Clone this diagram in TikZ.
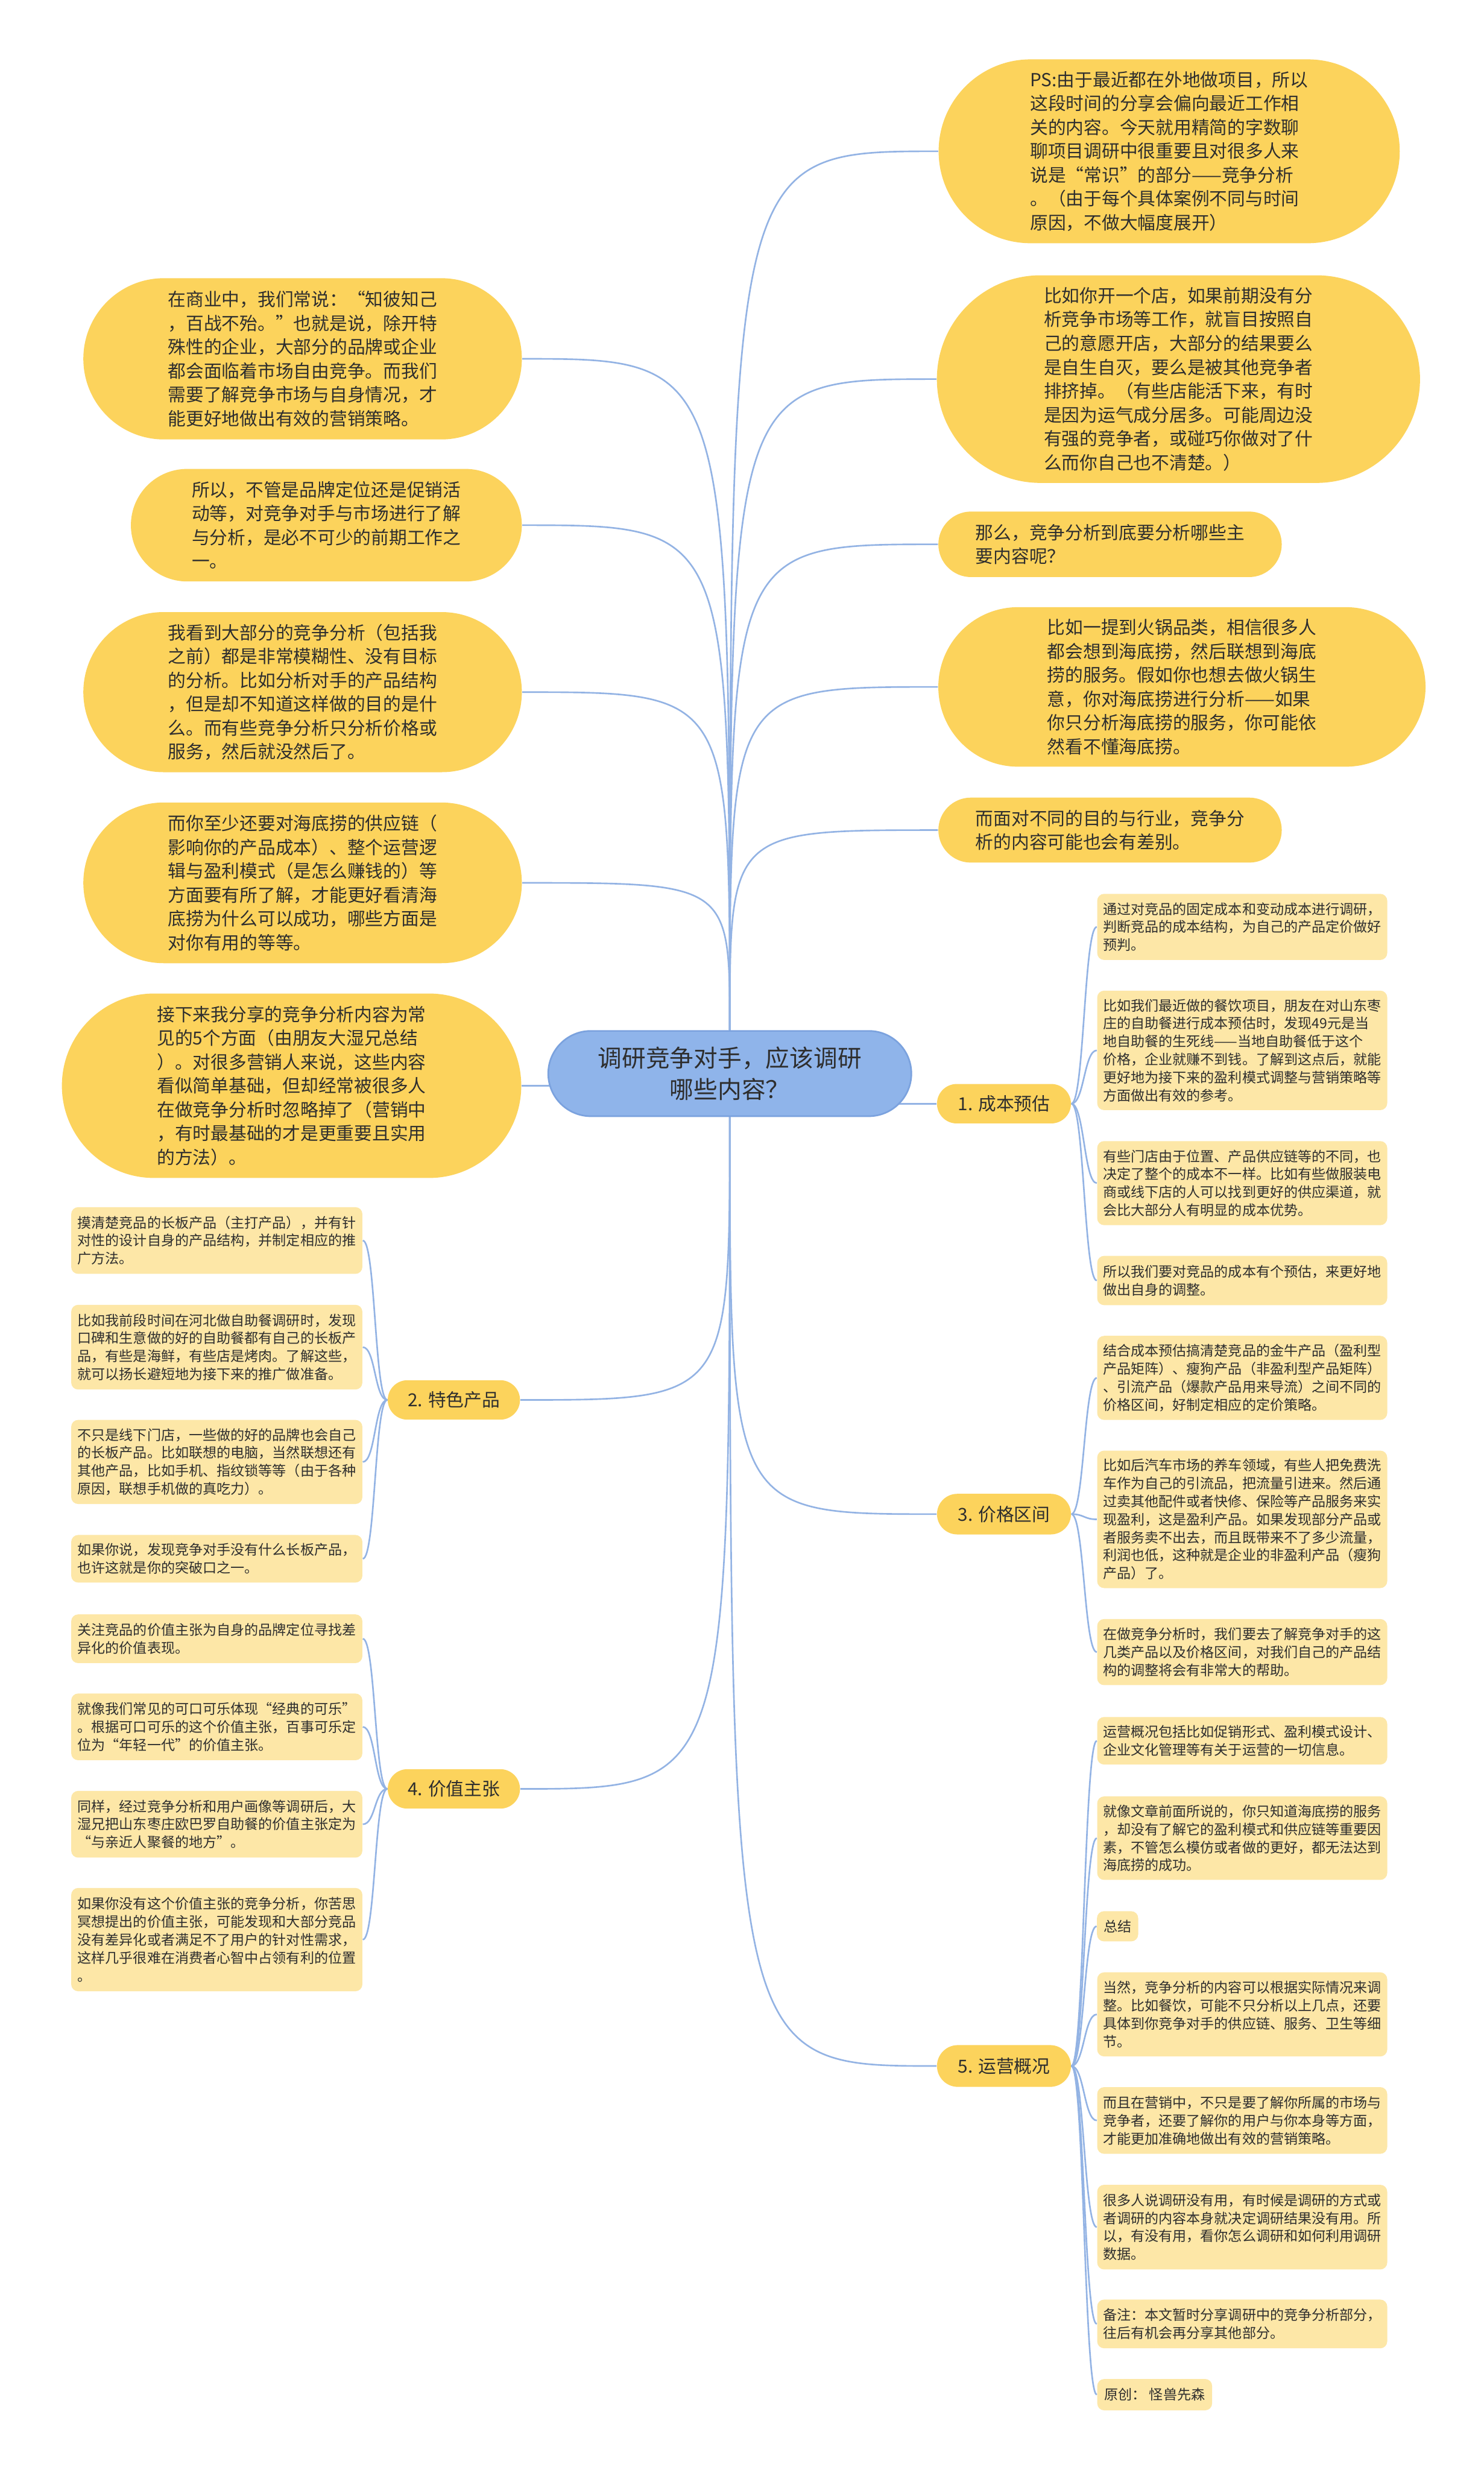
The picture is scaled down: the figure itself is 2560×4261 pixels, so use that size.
\documentclass[tikz,border=0pt]{standalone}
\usepackage{fontspec}
\setmainfont{Noto Sans CJK SC}
\usetikzlibrary{shapes.misc,backgrounds}
\definecolor{gold}{HTML}{FCD35C}
\definecolor{pale}{HTML}{FDE7A7}
\definecolor{cblue}{HTML}{8FB4EA}
\definecolor{cborder}{HTML}{7BA2DE}
\definecolor{edgec}{HTML}{93B3E4}
\definecolor{txt}{HTML}{2E2E2E}
\begin{document}
\begin{tikzpicture}[x=0.01cm,y=-0.01cm,
  every node/.style={text=txt, inner sep=0pt},
  topic/.style={rounded rectangle, fill=gold, align=left, font=\fontsize{8.8pt}{11.7pt}\selectfont},
  branch/.style={rounded rectangle, fill=gold, align=center, minimum height=1.9cm, font=\fontsize{8.8pt}{11pt}\selectfont},
  leaf/.style={rectangle, rounded corners=3.4pt, fill=pale, align=left, minimum width=5cm, font=\fontsize{6.83pt}{8.82pt}\selectfont},
  rootn/.style={rounded rectangle, fill=cblue, draw=cborder, line width=0.8pt, align=center, font=\fontsize{11.75pt}{15.6pt}\selectfont},
  conn/.style={draw=edgec, line width=0.78pt}
]
\useasboundingbox (0,0) rectangle (2560,4261);

% root
\node[rootn, minimum width=6.26cm, minimum height=1.47cm] (C) at (1259,1852) {调研竞争对手，应该调研\\哪些内容？};

% left level-1 topics
\node[topic, minimum width=7.56cm, minimum height=2.78cm] (L1) at (522,619) {在商业中，我们常说：“知彼知己\\，百战不殆。”也就是说，除开特\\殊性的企业，大部分的品牌或企业\\都会面临着市场自由竞争。而我们\\需要了解竞争市场与自身情况，才\\能更好地做出有效的营销策略。};
\node[topic, minimum width=6.74cm, minimum height=1.94cm] (L2) at (563,906) {所以，不管是品牌定位还是促销活\\动等，对竞争对手与市场进行了解\\与分析，是必不可少的前期工作之\\一。};
\node[topic, minimum width=7.56cm, minimum height=2.76cm] (L3) at (522,1194) {我看到大部分的竞争分析（包括我\\之前）都是非常模糊性、没有目标\\的分析。比如分析对手的产品结构\\，但是却不知道这样做的目的是什\\么。而有些竞争分析只分析价格或\\服务，然后就没然后了。};
\node[topic, minimum width=7.56cm, minimum height=2.77cm] (L4) at (522,1523) {而你至少还要对海底捞的供应链（\\影响你的产品成本）、整个运营逻\\辑与盈利模式（是怎么赚钱的）等\\方面要有所了解，才能更好看清海\\底捞为什么可以成功，哪些方面是\\对你有用的等等。};
\node[topic, minimum width=7.92cm, minimum height=3.18cm] (L5) at (503,1873) {接下来我分享的竞争分析内容为常\\见的5个方面（由朋友大湿兄总结\\）。对很多营销人来说，这些内容\\看似简单基础，但却经常被很多人\\在做竞争分析时忽略掉了（营销中\\，有时最基础的才是更重要且实用\\的方法）。};

% right level-1 topics
\node[topic, minimum width=7.95cm, minimum height=3.17cm] (R1) at (2017,261) {PS:由于最近都在外地做项目，所以\\这段时间的分享会偏向最近工作相\\关的内容。今天就用精简的字数聊\\聊项目调研中很重要且对很多人来\\说是“常识”的部分——竞争分析\\。（由于每个具体案例不同与时间\\原因，不做大幅度展开）};
\node[topic, minimum width=8.33cm, minimum height=3.58cm] (R2) at (2033,654) {比如你开一个店，如果前期没有分\\析竞争市场等工作，就盲目按照自\\己的意愿开店，大部分的结果要么\\是自生自灭，要么是被其他竞争者\\排挤掉。（有些店能活下来，有时\\是因为运气成分居多。可能周边没\\有强的竞争者，或碰巧你做对了什\\么而你自己也不清楚。）};
\node[topic, minimum width=5.92cm, minimum height=1.13cm] (R3) at (1915,939) {那么，竞争分析到底要分析哪些主\\要内容呢？};
\node[topic, minimum width=8.4cm, minimum height=2.75cm] (R4) at (2039,1185) {比如一提到火锅品类，相信很多人\\都会想到海底捞，然后联想到海底\\捞的服务。假如你也想去做火锅生\\意，你对海底捞进行分析——如果\\你只分析海底捞的服务，你可能依\\然看不懂海底捞。};
\node[topic, minimum width=5.92cm, minimum height=1.12cm] (R5) at (1915,1432) {而面对不同的目的与行业，竞争分\\析的内容可能也会有差别。};

% branches
\node[branch, minimum width=2.31cm, minimum height=0.68cm] (B1) at (1732,1904) {1. 成本预估};
\node[branch, minimum width=2.28cm, minimum height=0.68cm] (B2) at (783,2415) {2. 特色产品};
\node[branch, minimum width=2.31cm, minimum height=0.70cm] (B3) at (1732,2612) {3. 价格区间};
\node[branch, minimum width=2.28cm, minimum height=0.68cm] (B4) at (783,3086) {4. 价值主张};
\node[branch, minimum width=2.31cm, minimum height=0.72cm] (B5) at (1732,3564) {5. 运营概况};

% leaves: cost
\node[leaf, minimum height=1.14cm] (c1) at (2143,1599) {通过对竞品的固定成本和变动成本进行调研，\\判断竞品的成本结构，为自己的产品定价做好\\预判。};
\node[leaf, minimum height=2.06cm] (c2) at (2143,1812) {比如我们最近做的餐饮项目，朋友在对山东枣\\庄的自助餐进行成本预估时，发现49元是当\\地自助餐的生死线——当地自助餐低于这个\\价格，企业就赚不到钱。了解到这点后，就能\\更好地为接下来的盈利模式调整与营销策略等\\方面做出有效的参考。};
\node[leaf, minimum height=1.45cm] (c3) at (2143,2041) {有些门店由于位置、产品供应链等的不同，也\\决定了整个的成本不一样。比如有些做服装电\\商或线下店的人可以找到更好的供应渠道，就\\会比大部分人有明显的成本优势。};
\node[leaf, minimum height=0.85cm] (c4) at (2143,2209) {所以我们要对竞品的成本有个预估，来更好地\\做出自身的调整。};

% leaves: price
\node[leaf, minimum height=1.45cm] (p1) at (2143,2377) {结合成本预估搞清楚竞品的金牛产品（盈利型\\产品矩阵）、瘦狗产品（非盈利型产品矩阵）\\、引流产品（爆款产品用来导流）之间不同的\\价格区间，好制定相应的定价策略。};
\node[leaf, minimum height=2.37cm] (p2) at (2143,2621) {比如后汽车市场的养车领域，有些人把免费洗\\车作为自己的引流品，把流量引进来。然后通\\过卖其他配件或者快修、保险等产品服务来实\\现盈利，这是盈利产品。如果发现部分产品或\\者服务卖不出去，而且既带来不了多少流量，\\利润也低，这种就是企业的非盈利产品（瘦狗\\产品）了。};
\node[leaf, minimum height=1.14cm] (p3) at (2143,2850) {在做竞争分析时，我们要去了解竞争对手的这\\几类产品以及价格区间，对我们自己的产品结\\构的调整将会有非常大的帮助。};

% leaves: operations
\node[leaf, minimum height=0.82cm] (o1) at (2143,3003) {运营概况包括比如促销形式、盈利模式设计、\\企业文化管理等有关于运营的一切信息。};
\node[leaf, minimum height=1.44cm] (o2) at (2143,3171) {就像文章前面所说的，你只知道海底捞的服务\\，却没有了解它的盈利模式和供应链等重要因\\素，不管怎么模仿或者做的更好，都无法达到\\海底捞的成功。};
\node[leaf, minimum width=0.71cm, minimum height=0.52cm] (o3) at (1928,3323) {总结};
\node[leaf, minimum height=1.45cm] (o4) at (2143,3475) {当然，竞争分析的内容可以根据实际情况来调\\整。比如餐饮，可能不只分析以上几点，还要\\具体到你竞争对手的供应链、服务、卫生等细\\节。};
\node[leaf, minimum height=1.15cm] (o5) at (2143,3658) {而且在营销中，不只是要了解你所属的市场与\\竞争者，还要了解你的用户与你本身等方面，\\才能更加准确地做出有效的营销策略。};
\node[leaf, minimum height=1.46cm] (o6) at (2143,3842) {很多人说调研没有用，有时候是调研的方式或\\者调研的内容本身就决定调研结果没有用。所\\以，有没有用，看你怎么调研和如何利用调研\\数据。};
\node[leaf, minimum height=0.84cm] (o7) at (2143,4009) {备注：本文暂时分享调研中的竞争分析部分，\\往后有机会再分享其他部分。};
\node[leaf, minimum width=1.98cm, minimum height=0.54cm] (o8) at (1992,4131) {原创： 怪兽先森};

% leaves: feature products
\node[leaf, minimum width=5.02cm, minimum height=1.15cm] (f1) at (374,2140) {摸清楚竞品的长板产品（主打产品），并有针\\对性的设计自身的产品结构，并制定相应的推\\广方法。};
\node[leaf, minimum width=5.02cm, minimum height=1.46cm] (f2) at (374,2324) {比如我前段时间在河北做自助餐调研时，发现\\口碑和生意做的好的自助餐都有自己的长板产\\品，有些是海鲜，有些店是烤肉。了解这些，\\就可以扬长避短地为接下来的推广做准备。};
\node[leaf, minimum width=5.02cm, minimum height=1.45cm] (f3) at (374,2522) {不只是线下门店，一些做的好的品牌也会自己\\的长板产品。比如联想的电脑，当然联想还有\\其他产品，比如手机、指纹锁等等（由于各种\\原因，联想手机做的真吃力）。};
\node[leaf, minimum width=5.02cm, minimum height=0.82cm] (f4) at (374,2689) {如果你说，发现竞争对手没有什么长板产品，\\也许这就是你的突破口之一。};

% leaves: value proposition
\node[leaf, minimum width=5.02cm, minimum height=0.84cm] (v1) at (374,2827) {关注竞品的价值主张为自身的品牌定位寻找差\\异化的价值表现。};
\node[leaf, minimum width=5.02cm, minimum height=1.15cm] (v2) at (374,2979) {就像我们常见的可口可乐体现“经典的可乐”\\。根据可口可乐的这个价值主张，百事可乐定\\位为“年轻一代”的价值主张。};
\node[leaf, minimum width=5.02cm, minimum height=1.15cm] (v3) at (374,3147) {同样，经过竞争分析和用户画像等调研后，大\\湿兄把山东枣庄欧巴罗自助餐的价值主张定为\\“与亲近人聚餐的地方”。};
\node[leaf, minimum width=5.02cm, minimum height=1.78cm] (v4) at (374,3346) {如果你没有这个价值主张的竞争分析，你苦思\\冥想提出的价值主张，可能发现和大部分竞品\\没有差异化或者满足不了用户的针对性需求，\\这样几乎很难在消费者心智中占领有利的位置\\。};

% connectors
\begin{scope}[on background layer]
\fill[white] (0,0) rectangle (2560,4261);
\foreach \n in {L1,L2,L3,L4}
  \draw[conn] (C.north) .. controls (C.north |- \n.east) .. (\n.east);
\foreach \n in {R1,R2,R3,R4,R5}
  \draw[conn] (C.north) .. controls (C.north |- \n.west) .. (\n.west);
\draw[conn] (L5.east) -- (C.center |- L5.east);
\draw[conn] (B1.west) -- (C.center |- B1.west);
\foreach \n in {B2,B4}
  \draw[conn] (C.south) .. controls (C.south |- \n.east) .. (\n.east);
\foreach \n in {B3,B5}
  \draw[conn] (C.south) .. controls (C.south |- \n.west) .. (\n.west);
\foreach \l in {c1,c2,c3,c4}
  \draw[conn] (B1.east) .. controls +(22,0) and +(-22,0) .. (\l.west);
\foreach \l in {p1,p2,p3}
  \draw[conn] (B3.east) .. controls +(22,0) and +(-22,0) .. (\l.west);
\foreach \l in {o1,o2,o3,o4,o5,o6,o7,o8}
  \draw[conn] (B5.east) .. controls +(22,0) and +(-22,0) .. (\l.west);
\foreach \l in {f1,f2,f3,f4}
  \draw[conn] (B2.west) .. controls +(-22,0) and +(22,0) .. (\l.east);
\foreach \l in {v1,v2,v3,v4}
  \draw[conn] (B4.west) .. controls +(-22,0) and +(22,0) .. (\l.east);
\end{scope}
\end{tikzpicture}
\end{document}
